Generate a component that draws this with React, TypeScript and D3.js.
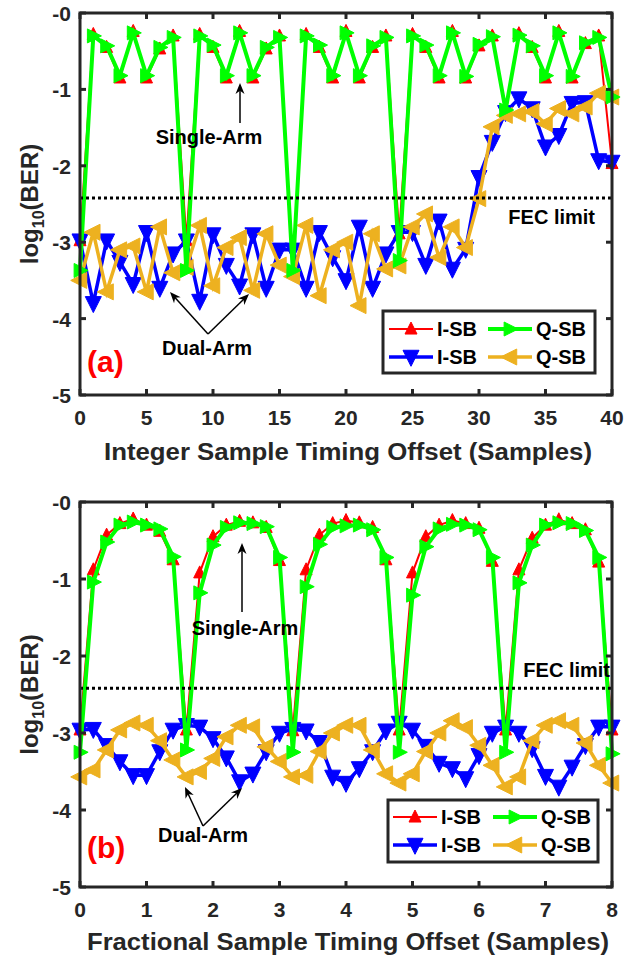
import React from "react";
import * as d3 from "d3";

// ---------------- DATA ----------------
const xA = [0,1,2,3,4,5,6,7,8,9,10,11,12,13,14,15,16,17,18,19,20,21,22,23,24,25,26,27,28,29,30,31,32,33,34,35,36,37,38,39,40];
const isbSingleA = [-2.98,-0.28,-0.45,-0.85,-0.24,-0.85,-0.47,-0.30,-2.98,-0.28,-0.45,-0.85,-0.24,-0.85,-0.47,-0.30,-3.37,-0.28,-0.45,-0.85,-0.24,-0.85,-0.45,-0.30,-2.89,-0.28,-0.45,-0.85,-0.24,-0.85,-0.43,-0.30,-1.30,-0.27,-0.45,-0.85,-0.24,-0.85,-0.40,-0.30,-1.97];
const qsbSingleA = [-3.37,-0.30,-0.43,-0.82,-0.26,-0.82,-0.45,-0.32,-3.37,-0.30,-0.42,-0.82,-0.26,-0.82,-0.45,-0.32,-3.37,-0.30,-0.42,-0.82,-0.26,-0.82,-0.43,-0.32,-3.24,-0.30,-0.42,-0.82,-0.26,-0.83,-0.41,-0.31,-1.27,-0.29,-0.43,-0.82,-0.26,-0.83,-0.39,-0.32,-1.10];
const isbDualA = [-2.98,-3.80,-2.98,-3.26,-3.55,-2.87,-3.60,-3.15,-2.98,-3.77,-2.90,-3.30,-3.57,-2.90,-3.60,-3.10,-3.10,-3.60,-2.87,-3.20,-3.50,-2.80,-3.60,-3.15,-2.87,-2.87,-3.30,-2.72,-3.35,-3.09,-2.15,-1.69,-1.30,-1.12,-1.25,-1.75,-1.60,-1.18,-1.17,-1.93,-1.95];
const qsbDualA = [-3.50,-2.87,-3.65,-3.10,-3.05,-3.65,-2.80,-3.40,-3.33,-2.78,-3.57,-3.07,-2.94,-3.63,-2.89,-3.30,-3.45,-2.78,-3.70,-3.10,-3.00,-3.83,-2.89,-3.35,-3.31,-2.80,-2.63,-3.20,-2.80,-3.07,-2.43,-1.49,-1.34,-1.32,-1.29,-1.45,-1.25,-1.32,-1.23,-1.05,-1.10];

const xB = [0,0.2,0.4,0.6,0.8,1.0,1.2,1.4,1.6,1.8,2.0,2.2,2.4,2.6,2.8,3.0,3.2,3.4,3.6,3.8,4.0,4.2,4.4,4.6,4.8,5.0,5.2,5.4,5.6,5.8,6.0,6.2,6.4,6.6,6.8,7.0,7.2,7.4,7.6,7.8,8.0];
const isbSingleB = [-2.96,-0.88,-0.43,-0.28,-0.22,-0.30,-0.38,-0.75,-2.96,-0.92,-0.45,-0.30,-0.25,-0.27,-0.33,-0.76,-2.97,-0.88,-0.43,-0.28,-0.24,-0.27,-0.33,-0.75,-2.96,-0.92,-0.45,-0.30,-0.24,-0.28,-0.34,-0.77,-2.96,-0.88,-0.47,-0.30,-0.23,-0.28,-0.36,-0.78,-2.96];
const qsbSingleB = [-3.25,-1.04,-0.52,-0.30,-0.26,-0.30,-0.35,-0.71,-3.22,-1.18,-0.56,-0.33,-0.27,-0.28,-0.32,-0.72,-3.25,-1.10,-0.55,-0.33,-0.31,-0.30,-0.36,-0.72,-3.25,-1.21,-0.58,-0.35,-0.29,-0.30,-0.36,-0.72,-3.25,-1.05,-0.56,-0.30,-0.27,-0.28,-0.37,-0.72,-3.27];
const isbDualB = [-2.96,-2.95,-3.16,-3.37,-3.55,-3.55,-3.24,-2.96,-2.90,-2.92,-3.07,-3.32,-3.63,-3.53,-3.24,-3.00,-2.95,-2.97,-3.12,-3.57,-3.65,-3.46,-3.24,-2.97,-2.87,-2.96,-3.17,-3.39,-3.46,-3.59,-3.29,-3.00,-2.92,-3.00,-3.20,-3.56,-3.70,-3.44,-3.16,-2.92,-2.92];
const qsbDualB = [-3.57,-3.48,-3.22,-2.96,-2.87,-2.90,-3.10,-3.35,-3.57,-3.50,-3.33,-3.05,-2.90,-2.92,-3.18,-3.37,-3.57,-3.55,-3.24,-3.00,-2.90,-2.90,-3.22,-3.53,-3.65,-3.53,-3.24,-3.00,-2.84,-2.93,-3.16,-3.42,-3.70,-3.57,-3.10,-2.90,-2.84,-2.90,-3.13,-3.42,-3.65];

const fecLimit = -2.42;
const yTicks = [0, -1, -2, -3, -4, -5];
const yTickLabels = ["-0", "-1", "-2", "-3", "-4", "-5"];
const xTicksA = [0,5,10,15,20,25,30,35,40];
const xTicksB = [0,1,2,3,4,5,6,7,8];
const legendLabels = ["I-SB", "Q-SB", "I-SB", "Q-SB"];

// ---------------- STYLE ----------------
const FONT = "'Liberation Sans', Arial, Helvetica, sans-serif";
const AX = "#262626";
const RED = "#ff0000";
const GREEN = "#00ff00";
const BLUE = "#0000ff";
const ORANGE = "#edb120";

type Dir = "up" | "down" | "left" | "right";
function tri(dir: Dir, w: number) {
  const a = w * 0.58, b = w * 0.42, h = w / 2;
  const p = d3.path();
  if (dir === "up") { p.moveTo(0, -a); p.lineTo(h, b); p.lineTo(-h, b); }
  if (dir === "down") { p.moveTo(0, a); p.lineTo(h, -b); p.lineTo(-h, -b); }
  if (dir === "right") { p.moveTo(a, 0); p.lineTo(-b, h); p.lineTo(-b, -h); }
  if (dir === "left") { p.moveTo(-a, 0); p.lineTo(b, h); p.lineTo(b, -h); }
  p.closePath();
  return p.toString();
}

interface SeriesDef { ys: number[]; color: string; lw: number; dir: Dir; ms: number; }

interface PanelDef {
  top: number; bottom: number; left: number; right: number;
  xs: number[]; xDomain: [number, number]; xTicks: number[];
  xLabel: string; tag: string;
  series: SeriesDef[];
  single: { x: number; y: number; ax: number; ay1: number; ay2: number };
  fec: { x: number; y: number };
  dual: { x: number; y: number; ox: number; oy: number; t1: [number, number]; t2: [number, number] };
  tagPos: { x: number; y: number };
  legend: { x0: number; y0: number; x1: number; y1: number; r1: number; r2: number; c1: number; c2: number };
  xLabelW: number;
  xLabelY: number;
}

function Arrow({ x1, y1, x2, y2 }: { x1: number; y1: number; x2: number; y2: number }) {
  const ang = Math.atan2(y2 - y1, x2 - x1);
  const L = 11, Wd = 4.5;
  const bx = x2 - L * Math.cos(ang), by = y2 - L * Math.sin(ang);
  const nx = -Math.sin(ang), ny = Math.cos(ang);
  const p = d3.path();
  p.moveTo(x2, y2);
  p.lineTo(bx + nx * Wd, by + ny * Wd);
  p.lineTo(x2 - L * 0.7 * Math.cos(ang), y2 - L * 0.7 * Math.sin(ang));
  p.lineTo(bx - nx * Wd, by - ny * Wd);
  p.closePath();
  return (
    <g>
      <line x1={x1} y1={y1} x2={x2 - 6 * Math.cos(ang)} y2={y2 - 6 * Math.sin(ang)} stroke="#000" strokeWidth={1.5} />
      <path d={p.toString()} fill="#000" />
    </g>
  );
}

function Panel({ d }: { d: PanelDef }) {
  const x = d3.scaleLinear().domain(d.xDomain).range([d.left, d.right]);
  const y = d3.scaleLinear().domain([-5, 0]).range([d.bottom, d.top]);
  const line = (ys: number[]) =>
    d3.line<number>().x((_, i) => x(d.xs[i])).y((v) => y(v))(ys) || "";
  const tl = 6;
  const cy = (d.top + d.bottom) / 2;
  const lg = d.legend;
  const legendItems = [
    { s: d.series[0], lx: lg.c1, ly: lg.r1, label: legendLabels[0] },
    { s: d.series[3], lx: lg.c2, ly: lg.r1, label: legendLabels[1] },
    { s: d.series[1], lx: lg.c1, ly: lg.r2, label: legendLabels[2] },
    { s: d.series[2], lx: lg.c2, ly: lg.r2, label: legendLabels[3] },
  ];
  return (
    <g>
      {d.series.map((s, k) => (
        <g key={k}>
          <path d={line(s.ys)} fill="none" stroke={s.color} strokeWidth={s.lw} strokeLinejoin="miter" />
          {s.ys.map((v, i) => (
            <path key={i} d={tri(s.dir, s.ms)} transform={`translate(${x(d.xs[i])},${y(v)})`} fill={s.color} stroke={s.color} strokeWidth={1} />
          ))}
        </g>
      ))}
      <line x1={d.left} x2={d.right} y1={y(fecLimit)} y2={y(fecLimit)} stroke="#000" strokeWidth={3} strokeDasharray="3,3" />
      <rect x={d.left} y={d.top} width={d.right - d.left} height={d.bottom - d.top} fill="none" stroke={AX} strokeWidth={3} />
      {d.xTicks.map((t) => (
        <g key={"x" + t}>
          <line x1={x(t)} x2={x(t)} y1={d.bottom} y2={d.bottom - tl} stroke={AX} strokeWidth={3} />
          <line x1={x(t)} x2={x(t)} y1={d.top} y2={d.top + tl} stroke={AX} strokeWidth={3} />
          <text x={x(t)} y={d.bottom + 30} textAnchor="middle" fontFamily={FONT} fontWeight="bold" fontSize={21} fill={AX}>{t}</text>
        </g>
      ))}
      {yTicks.map((t, i) => (
        <g key={"y" + t}>
          <line x1={d.left} x2={d.left + tl} y1={y(t)} y2={y(t)} stroke={AX} strokeWidth={3} />
          <line x1={d.right} x2={d.right - tl} y1={y(t)} y2={y(t)} stroke={AX} strokeWidth={3} />
          <text x={d.left - 9} y={y(t) + 8} textAnchor="end" fontFamily={FONT} fontWeight="bold" fontSize={21} fill={AX}>{yTickLabels[i]}</text>
        </g>
      ))}
      <text x={(d.left + d.right) / 2 + 2} y={d.xLabelY} textAnchor="middle" fontFamily={FONT} fontWeight="bold" fontSize={23} fill={AX} textLength={d.xLabelW} lengthAdjust="spacingAndGlyphs">{d.xLabel}</text>
      <text transform={`translate(38,${cy}) rotate(-90)`} textAnchor="middle" fontFamily={FONT} fontWeight="bold" fontSize={24} fill={AX}>
        log<tspan fontSize={16} dy={6}>10</tspan><tspan dy={-6}>(BER)</tspan>
      </text>
      <text x={d.single.x} y={d.single.y} textAnchor="middle" fontFamily={FONT} fontWeight="bold" fontSize={20} fill="#000">Single-Arm</text>
      <Arrow x1={d.single.ax} y1={d.single.ay1} x2={d.single.ax} y2={d.single.ay2} />
      <text x={d.fec.x} y={d.fec.y} textAnchor="end" fontFamily={FONT} fontWeight="bold" fontSize={20} fill="#000">FEC limit</text>
      <text x={d.dual.x} y={d.dual.y} textAnchor="middle" fontFamily={FONT} fontWeight="bold" fontSize={20} fill="#000">Dual-Arm</text>
      <Arrow x1={d.dual.ox} y1={d.dual.oy} x2={d.dual.t1[0]} y2={d.dual.t1[1]} />
      <Arrow x1={d.dual.ox} y1={d.dual.oy} x2={d.dual.t2[0]} y2={d.dual.t2[1]} />
      <text x={d.tagPos.x} y={d.tagPos.y} fontFamily={FONT} fontWeight="bold" fontSize={30} fill={RED}>{d.tag}</text>
      <rect x={lg.x0} y={lg.y0} width={lg.x1 - lg.x0} height={lg.y1 - lg.y0} fill="#fff" stroke={AX} strokeWidth={3} />
      {legendItems.map((it, k) => (
        <g key={k}>
          <line x1={it.lx} x2={it.lx + 44} y1={it.ly} y2={it.ly} stroke={it.s.color} strokeWidth={it.s.lw} />
          <path d={tri(it.s.dir, it.s.ms)} transform={`translate(${it.lx + 22},${it.ly})`} fill={it.s.color} stroke={it.s.color} strokeWidth={1} />
          <text x={it.lx + 48} y={it.ly + 7} fontFamily={FONT} fontWeight="bold" fontSize={20} fill="#000">{it.label}</text>
        </g>
      ))}
    </g>
  );
}

export default function App() {
  const panelA: PanelDef = {
    top: 13, bottom: 395, left: 80, right: 612,
    xs: xA, xDomain: [0, 40], xTicks: xTicksA,
    xLabel: "Integer Sample Timing Offset (Samples)", tag: "(a)", xLabelW: 488, xLabelY: 460,
    series: [
      { ys: isbSingleA, color: RED, lw: 2, dir: "up", ms: 12 },
      { ys: isbDualA, color: BLUE, lw: 3.5, dir: "down", ms: 16 },
      { ys: qsbDualA, color: ORANGE, lw: 3.5, dir: "left", ms: 16 },
      { ys: qsbSingleA, color: GREEN, lw: 4, dir: "right", ms: 14 },
    ],
    single: { x: 209, y: 144, ax: 240, ay1: 123, ay2: 83 },
    fec: { x: 595, y: 224 },
    dual: { x: 207, y: 355, ox: 208, oy: 334, t1: [170, 292], t2: [249, 294] },
    tagPos: { x: 87, y: 372 },
    legend: { x0: 383, y0: 311, x1: 595, y1: 373, r1: 329, r2: 357, c1: 389, c2: 488 },
  };
  const panelB: PanelDef = {
    top: 502, bottom: 887, left: 80, right: 612,
    xs: xB, xDomain: [0, 8], xTicks: xTicksB,
    xLabel: "Fractional Sample Timing Offset (Samples)", tag: "(b)", xLabelW: 522, xLabelY: 950,
    series: [
      { ys: isbSingleB, color: RED, lw: 2, dir: "up", ms: 12 },
      { ys: isbDualB, color: BLUE, lw: 3.5, dir: "down", ms: 16 },
      { ys: qsbDualB, color: ORANGE, lw: 3.5, dir: "left", ms: 16 },
      { ys: qsbSingleB, color: GREEN, lw: 4, dir: "right", ms: 14 },
    ],
    single: { x: 245, y: 635, ax: 242, ay1: 612, ay2: 543 },
    fec: { x: 610, y: 677 },
    dual: { x: 203, y: 842, ox: 203, oy: 826, t1: [185, 787], t2: [242, 788] },
    tagPos: { x: 87, y: 858 },
    legend: { x0: 388, y0: 800, x1: 598, y1: 862, r1: 817, r2: 845, c1: 393, c2: 493 },
  };
  return (
    <div style={{ position: "absolute", left: 0, top: 0 }}>
      <svg width={626} height={958} viewBox="0 0 626 958" style={{ display: "block", background: "#fff" }}>
        <rect width={626} height={958} fill="#fff" />
        <Panel d={panelA} />
        <Panel d={panelB} />
      </svg>
    </div>
  );
}
